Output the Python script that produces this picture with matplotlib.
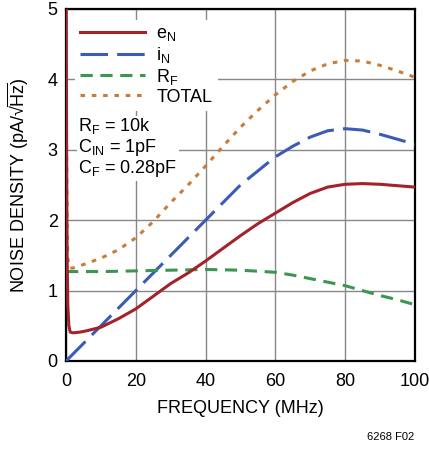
import numpy as np
import matplotlib.pyplot as plt

plt.rcParams['font.family'] = ['Liberation Sans', 'DejaVu Sans']
plt.rcParams['mathtext.fontset'] = 'custom'
plt.rcParams['mathtext.rm'] = 'Liberation Sans'
plt.rcParams['mathtext.it'] = 'Liberation Sans'

# frequency points (MHz) and noise densities (pA/rtHz)
freq_en = [0.05, 0.15, 0.3, 0.5, 0.8, 1.2, 2, 4, 6, 10, 15, 20, 25, 30, 35, 40, 45, 50, 55, 60, 65, 70, 75, 80, 85, 90, 95, 100]
e_n = [5.0, 3.0, 1.5, 0.8, 0.5, 0.41, 0.4, 0.41, 0.43, 0.48, 0.6, 0.74, 0.92, 1.1, 1.25, 1.42, 1.6, 1.78, 1.95, 2.1, 2.25, 2.38, 2.47, 2.51, 2.52, 2.51, 2.49, 2.47]

freq_in = [0, 10, 20, 30, 40, 50, 60, 65, 70, 75, 80, 85, 90, 95, 100]
i_n = [0.0, 0.5, 1.0, 1.5, 2.0, 2.5, 2.9, 3.05, 3.18, 3.27, 3.3, 3.28, 3.22, 3.15, 3.08]

freq_rf = [0, 10, 20, 30, 40, 50, 60, 65, 70, 75, 80, 85, 90, 95, 100]
r_f = [1.27, 1.27, 1.28, 1.29, 1.3, 1.29, 1.26, 1.22, 1.17, 1.12, 1.07, 1.0, 0.93, 0.87, 0.8]

freq_tot = [0.05, 0.15, 0.3, 0.5, 1, 2, 5, 10, 15, 20, 25, 30, 35, 40, 45, 50, 55, 60, 65, 70, 75, 80, 85, 90, 95, 100]
total = [5.0, 3.2, 1.9, 1.45, 1.32, 1.32, 1.37, 1.46, 1.58, 1.75, 1.98, 2.25, 2.5, 2.77, 3.05, 3.32, 3.56, 3.78, 3.97, 4.12, 4.22, 4.27, 4.26, 4.2, 4.12, 4.03]

fig = plt.figure(figsize=(4.29, 4.49), dpi=100)
ax = fig.add_axes([0.154, 0.196, 0.813, 0.784])

ax.plot(freq_en, e_n, color='#a3232b', lw=2.2, label='e$_N$', zorder=4)
ax.plot(freq_in, i_n, color='#3b5cb4', lw=2.2, dashes=(9, 3), label='i$_N$', zorder=3)
ax.plot(freq_rf, r_f, color='#3a9650', lw=2.2, dashes=(4, 2.5), label='R$_F$', zorder=3)
ax.plot(freq_tot, total, color='#c87d3a', lw=2.2, dashes=(1.5, 2.2), label='TOTAL', zorder=3)

ax.set_xlim(0, 100)
ax.set_ylim(0, 5)
ax.set_xticks([0, 20, 40, 60, 80, 100])
ax.set_yticks([0, 1, 2, 3, 4, 5])
ax.tick_params(axis='x', length=0, labelsize=13, pad=9)
ax.tick_params(axis='y', length=0, labelsize=13, pad=6)
ax.grid(True, color='#888888', lw=1)
for s in ax.spines.values():
    s.set_linewidth(1.6)

ax.set_xlabel('FREQUENCY (MHz)', fontsize=13, labelpad=7)
ax.set_ylabel('NOISE DENSITY (pA/√' + r'$\overline{\mathrm{Hz}}$' + ')', fontsize=13, labelpad=12)

leg = ax.legend(loc='upper left', fontsize=13, frameon=True, handlelength=3.6,
                borderaxespad=0.3, labelspacing=0.1, handletextpad=0.6,
                borderpad=0.3, bbox_to_anchor=(0.01, 0.985))
leg.get_frame().set_facecolor('white')
leg.get_frame().set_edgecolor('none')
leg.get_frame().set_alpha(1)

ax.text(3.5, 3.48, 'R$_F$ = 10k\nC$_{IN}$ = 1pF\nC$_F$ = 0.28pF', fontsize=13,
        va='top', ha='left', linespacing=1.05,
        bbox=dict(facecolor='white', edgecolor='none', pad=1))

fig.text(0.965, 0.02, '6268 F02', fontsize=8, ha='right')

fig.savefig('out.png', dpi=100)
